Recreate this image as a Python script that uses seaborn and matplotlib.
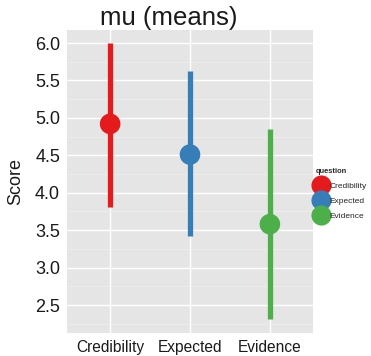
import matplotlib
matplotlib.use("Agg")
import matplotlib.pyplot as plt
from matplotlib.lines import Line2D
from matplotlib.ticker import MultipleLocator
import seaborn as sns
import pandas as pd

# Posterior summaries of mu per question
questions = ["Credibility", "Expected", "Evidence"]
mu_mean = [4.92, 4.51, 3.58]
mu_low = [3.81, 3.42, 2.31]
mu_high = [6.00, 5.63, 4.85]
palette = ["#E41A1C", "#377EB8", "#4DAF4A"]
y_ticks = [2.5, 3.0, 3.5, 4.0, 4.5, 5.0, 5.5, 6.0]

df = pd.DataFrame({"question": questions, "mean": mu_mean,
                   "low": mu_low, "high": mu_high})

sns.set_theme(style="white")
plt.rcParams["font.family"] = ["Liberation Sans", "DejaVu Sans"]

fig = plt.figure(figsize=(3.71, 3.56), dpi=100)
ax = fig.add_axes([67 / 371, 23 / 356, 246 / 371, 303 / 356])
ax.set_facecolor("#E5E5E5")

# interval segments
xpos = list(range(len(questions)))
ax.vlines(xpos, df["low"], df["high"], colors=palette, linewidth=3.8, zorder=3)

sns.scatterplot(data=df, x="question", y="mean", hue="question",
                palette=palette, s=220, linewidth=0, ax=ax, legend=False,
                zorder=4)

ax.set_xlim(-0.54, 2.54)
ax.set_ylim(2.126, 6.174)
ax.set_yticks(y_ticks)
ax.set_yticklabels([f"{v:.1f}" for v in y_ticks])
ax.yaxis.set_minor_locator(MultipleLocator(0.25))
ax.set_xticks(xpos)
ax.set_xticklabels(questions)

ax.grid(True, which="major", color="white", linewidth=1.0)
ax.grid(True, which="minor", axis="y", color="#F0F0F0", linewidth=0.5)
ax.set_axisbelow(True)
for s in ax.spines.values():
    s.set_visible(False)

ax.tick_params(axis="both", which="major", length=3, width=0.8,
               color="#808080", direction="out", pad=2)
ax.tick_params(axis="y", which="minor", length=0)
ax.tick_params(axis="y", labelsize=13, labelcolor="#1a1a1a")
ax.tick_params(axis="x", labelsize=11.2, labelcolor="#1a1a1a")

ax.set_xlabel("")
ax.set_ylabel("Score", fontsize=13, color="#1a1a1a", labelpad=8)

fig.text(168.5 / 371, 1 - 18 / 356, "mu (means)", fontsize=18.5,
         ha="center", va="center", color="#1a1a1a")

handles = [Line2D([], [], linestyle="none", marker="o", markersize=14.5,
                  markerfacecolor=c, markeredgewidth=0) for c in palette]
leg = fig.legend(handles, questions, title="question",
                 loc="upper left", bbox_to_anchor=(316 / 371, 1 - 168 / 356),
                 frameon=False, fontsize=6.0, title_fontsize=5.4,
                 handlelength=1.3, handletextpad=0.35, labelspacing=0.85,
                 borderaxespad=0, borderpad=0)
leg.get_title().set_fontweight("bold")
leg._legend_box.align = "left"

fig.savefig("out.png", dpi=100)
